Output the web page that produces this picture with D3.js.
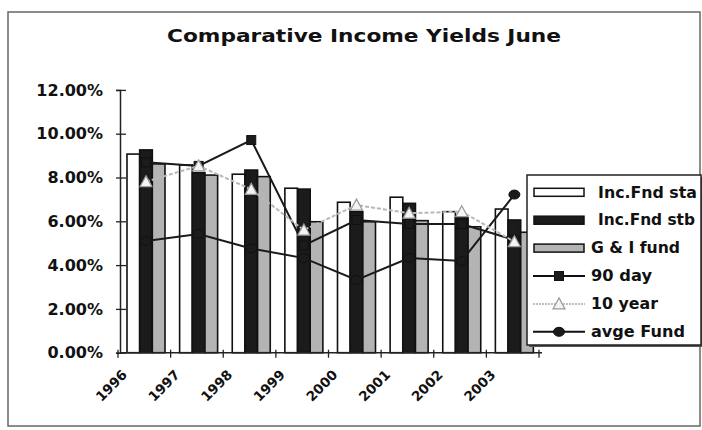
<!DOCTYPE html>
<html>
<head>
<meta charset="utf-8">
<script src="https://cdn.jsdelivr.net/npm/d3@7"></script>
<style>
  html, body { margin: 0; padding: 0; background: #fff; }
  svg { display: block; }
  text { font-family: "DejaVu Sans", sans-serif; font-weight: bold; fill: #111; }
</style>
</head>
<body>
<svg id="chart" width="702" height="430"></svg>
<script>
// ---- data ----
const years = ["1996", "1997", "1998", "1999", "2000", "2001", "2002", "2003"];
const incFndSta = [9.07, 8.57, 8.15, 7.51, 6.87, 7.10, 6.44, 6.56];
const incFndStb = [9.26, 8.22, 8.34, 7.47, 6.44, 6.82, 6.16, 6.06];
const gIFund    = [8.62, 8.11, 8.04, 5.98, 5.98, 6.03, 5.75, 5.50];
const day90     = [8.70, 8.53, 9.71, 4.90, 6.06, 5.88, 5.88, 5.15];
const year10    = [7.81, 8.53, 7.46, 5.60, 6.74, 6.37, 6.44, 5.07];
const avgeFund  = [5.10, 5.42, 4.76, 4.32, 3.32, 4.32, 4.19, 7.22];
const yTicks = [0, 2, 4, 6, 8, 10, 12];
const barSeries = [
  { name: "Inc.Fnd sta", values: incFndSta, fill: "#ffffff" },
  { name: "Inc.Fnd stb", values: incFndStb, fill: "#1b1b1b" },
  { name: "G & I fund",  values: gIFund,    fill: "#b4b4b4" }
];
const lineSeries = [
  { name: "90 day",    values: day90,    marker: "square" },
  { name: "avge Fund", values: avgeFund, marker: "circle" },
  { name: "10 year",   values: year10,   marker: "triangle" }
];
const legendOrder = ["Inc.Fnd sta", "Inc.Fnd stb", "G & I fund", "90 day", "10 year", "avge Fund"];

// ---- layout ----
const FONT = "'DejaVu Sans', sans-serif";
const svg = d3.select("#chart");
const x0 = d3.scaleBand().domain(years).range([118, 539]).padding(0);
const bw = x0.bandwidth();
const x1 = d3.scaleBand().domain(barSeries.map(s => s.name)).range([0.171 * bw, 0.893 * bw]).padding(0);
const y = d3.scaleLinear().domain([0, 12]).range([352.7, 89.9]);
const axisX = 120;

// outer frame
svg.append("rect").attr("x", 8).attr("y", 12).attr("width", 692).attr("height", 414)
  .attr("fill", "none").attr("stroke", "#666").attr("stroke-width", 1.5);

// title
svg.append("text").attr("x", 167).attr("y", 42)
  .attr("font-size", 18).attr("textLength", 394).attr("lengthAdjust", "spacingAndGlyphs")
  .text("Comparative Income Yields June");

// bars
const groups = svg.append("g").selectAll("g").data(years).join("g")
  .attr("transform", d => `translate(${x0(d)},0)`);
groups.selectAll("rect")
  .data((d, i) => barSeries.map(s => ({ s, v: s.values[i] })))
  .join("rect")
  .attr("x", d => x1(d.s.name))
  .attr("width", x1.bandwidth())
  .attr("y", d => y(d.v))
  .attr("height", d => y(0) - y(d.v))
  .attr("fill", d => d.s.fill)
  .attr("stroke", "#111")
  .attr("stroke-width", 1.6);

// lines
const cx = yr => x0(yr) + x1("Inc.Fnd stb") + x1.bandwidth() / 2;
function drawMarker(g, type, px, py) {
  if (type === "square") {
    g.append("rect").attr("x", px - 4.5).attr("y", py - 4.5).attr("width", 9).attr("height", 9)
      .attr("fill", "#1b1b1b").attr("stroke", "#111");
  } else if (type === "circle") {
    g.append("ellipse").attr("cx", px).attr("cy", py).attr("rx", 5.5).attr("ry", 4.5)
      .attr("fill", "#1b1b1b").attr("stroke", "#111");
  } else {
    g.append("path").attr("d", `M${px},${py - 6} L${px + 6},${py + 5} L${px - 6},${py + 5} Z`)
      .attr("fill", "#f4f4f4").attr("stroke", "#9a9a9a").attr("stroke-width", 1.2);
  }
}
lineSeries.forEach(s => {
  const g = svg.append("g");
  const line = d3.line().x((d, i) => cx(years[i])).y(d => y(d));
  const p = g.append("path").attr("d", line(s.values)).attr("fill", "none");
  if (s.marker === "triangle") {
    p.attr("stroke", "#b8b8b8").attr("stroke-width", 2).attr("stroke-dasharray", "4,2");
  } else {
    p.attr("stroke", "#1a1a1a").attr("stroke-width", 2);
  }
  s.values.forEach((v, i) => drawMarker(g, s.marker, cx(years[i]), y(v)));
});

// y axis
const yAxis = svg.append("g").attr("transform", `translate(${axisX},0)`)
  .call(d3.axisLeft(y).tickValues(yTicks).tickFormat(d => d.toFixed(2) + "%").tickSize(4).tickPadding(13));
yAxis.select(".domain").attr("stroke", "#222").attr("stroke-width", 1.5);
yAxis.selectAll(".tick line").attr("x1", 6).attr("stroke", "#222").attr("stroke-width", 1.3);
yAxis.selectAll(".tick text").attr("font-size", 16)
  .attr("font-family", FONT).attr("font-weight", "bold").attr("fill", "#111");

// x axis
const xAxis = svg.append("g").attr("transform", `translate(0,${y(0)})`)
  .call(d3.axisBottom(x0).tickSize(0).tickPadding(0));
xAxis.select(".domain").attr("d", `M${axisX},0H${x0.range()[1] + 3}`).attr("stroke", "#222").attr("stroke-width", 1.5);
xAxis.selectAll(".tick text")
  .attr("font-size", 13.5).attr("font-family", FONT)
  .attr("font-weight", "bold").attr("fill", "#111")
  .attr("text-anchor", "end").attr("dy", null).attr("y", null)
  .attr("transform", `translate(${-bw / 2 + 10},23) rotate(-45)`);
const bounds = years.map(d => x0(d)).concat([x0.range()[1]]);
xAxis.append("g").selectAll("line").data(bounds).join("line")
  .attr("x1", d => d).attr("x2", d => d).attr("y1", -3).attr("y2", 5)
  .attr("stroke", "#222").attr("stroke-width", 1.3);

// legend
const lg = svg.append("g");
lg.append("rect").attr("x", 529).attr("y", 177).attr("width", 174).attr("height", 170).attr("fill", "#555");
lg.append("rect").attr("x", 527).attr("y", 175).attr("width", 174).attr("height", 170)
  .attr("fill", "#fff").attr("stroke", "#222").attr("stroke-width", 1.5);
const textLen = { "Inc.Fnd sta": 99, "Inc.Fnd stb": 97, "G & I fund": 89, "90 day": 61, "10 year": 67, "avge Fund": 94 };
const textX = { "Inc.Fnd sta": 598, "Inc.Fnd stb": 598 };
legendOrder.forEach((name, i) => {
  const cy = 192.3 + i * 27.9;
  const bar = barSeries.find(s => s.name === name);
  const ln = lineSeries.find(s => s.name === name);
  if (bar) {
    lg.append("rect").attr("x", 534).attr("y", cy - 4).attr("width", 50).attr("height", 8)
      .attr("fill", bar.fill).attr("stroke", "#111").attr("stroke-width", 1.5);
  } else {
    const l = lg.append("line").attr("x1", 533).attr("x2", 585).attr("y1", cy).attr("y2", cy);
    if (ln.marker === "triangle") {
      l.attr("stroke", "#aaa").attr("stroke-width", 1.5).attr("stroke-dasharray", "2,1");
    } else {
      l.attr("stroke", "#111").attr("stroke-width", 2);
    }
    drawMarker(lg, ln.marker, 559, cy);
  }
  lg.append("text").attr("x", textX[name] || 591).attr("y", cy + 5.2)
    .attr("font-size", 15.5).attr("textLength", textLen[name]).attr("lengthAdjust", "spacingAndGlyphs")
    .text(name);
});
</script>
</body>
</html>
